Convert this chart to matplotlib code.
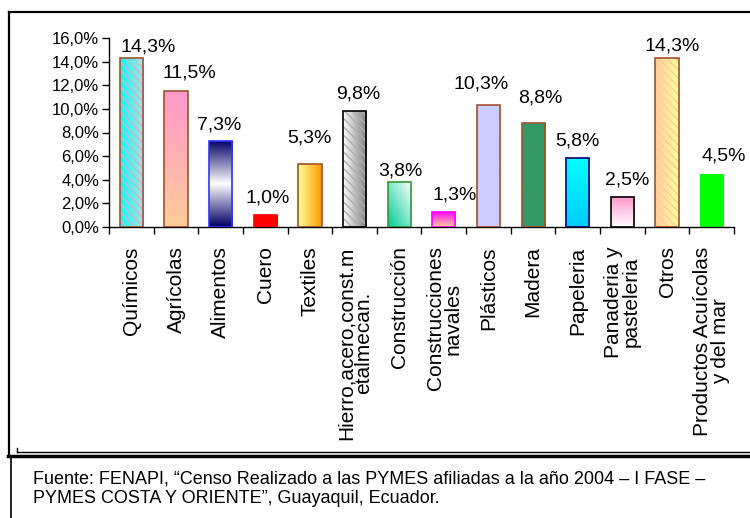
import numpy as np
import matplotlib
matplotlib.use("Agg")
from matplotlib import pyplot as plt
from matplotlib.lines import Line2D
from matplotlib.patches import Rectangle
from matplotlib.ticker import FuncFormatter, MultipleLocator, FixedLocator

# data
sectores = ["Químicos", "Agrícolas", "Alimentos", "Cuero", "Textiles",
            "Hierro,acero,const.m\netalmecan.", "Construcción",
            "Construcciones\nnavales", "Plásticos", "Madera", "Papeleria",
            "Panaderia y\npasteleria", "Otros", "Productos Acuícolas\ny del mar"]
porcentajes = [14.3, 11.5, 7.3, 1.0, 5.3, 9.8, 3.8, 1.3, 10.3, 8.8, 5.8, 2.5, 14.3, 4.5]
etiquetas = ["14,3%", "11,5%", "7,3%", "1,0%", "5,3%", "9,8%", "3,8%",
             "1,3%", "10,3%", "8,8%", "5,8%", "2,5%", "14,3%", "4,5%"]
fuente = ("Fuente: FENAPI, \u201cCenso Realizado a las PYMES afiliadas a la año 2004 \u2013 I FASE \u2013\n"
          "PYMES COSTA Y ORIENTE\u201d, Guayaquil, Ecuador.")

# styling: (kind, color1, color2, edge, hatch color)
estilos = [
    ("h", "#00ffff", "#b8e0e0", "#a0522d", "#c0c0c0"),
    ("v", "#ff99cc", "#ffcc99", "#a0522d", None),
    ("mid", "#000066", "#ffffff", "#3333ff", None),
    ("flat", "#ff0000", "#ff0000", "#ff0000", None),
    ("h", "#ffff99", "#ff9900", "#a0522d", None),
    ("h", "#ffffff", "#808080", "#000000", "#b0b0b0"),
    ("d", "#00cc99", "#ffffff", "#339933", None),
    ("v", "#ff00ff", "#ffcc99", "#ff00ff", None),
    ("flat", "#ccccff", "#ccccff", "#a0522d", None),
    ("flat", "#339966", "#339966", "#a0522d", None),
    ("v", "#00ffff", "#00ccff", "#000080", None),
    ("v", "#ff99cc", "#ffffff", "#000000", None),
    ("h", "#ffcc99", "#ffff99", "#a0522d", "#ffcc99"),
    ("flat", "#00ff00", "#00ff00", "none", None),
]
# label nudges in pixels (dx, dy above bar top)
nudges = [(17, 7), (13, 14), (-1, 11), (2, 13), (0, 22), (4, 13), (1, 7),
          (11, 12), (-7, 17), (7, 21), (0, 13), (5, 13), (5, 8), (12, 13)]

narrow = ["Liberation Sans Narrow", "Liberation Sans", "DejaVu Sans"]
W, H = 750, 518


def gradient(kind, c1, c2, n=64):
    a = np.array(matplotlib.colors.to_rgb(c1))
    b = np.array(matplotlib.colors.to_rgb(c2))
    t = np.linspace(0, 1, n)
    if kind == "v":      # c1 at top, c2 at bottom
        g = t[:, None] * np.ones((1, 2))
        img = a * g[..., None] + b * (1 - g[..., None])
    elif kind == "h":    # c1 left, c2 right
        g = np.ones((2, 1)) * t[None, :]
        img = a * (1 - g[..., None]) + b * g[..., None]
    elif kind == "mid":  # c1 at ends, c2 in the middle
        g = 1 - np.abs(2 * t - 1)
        g = g[:, None] * np.ones((1, 2))
        img = a * (1 - g[..., None]) + b * g[..., None]
    elif kind == "d":
        xx, yy = np.meshgrid(t, t)
        g = np.clip((xx + yy) / 2, 0, 1)
        img = a * (1 - g[..., None]) + b * g[..., None]
    else:
        img = np.ones((2, 2, 3)) * a
    return img


fig = plt.figure(figsize=(W / 100, H / 100), dpi=100)
ax = fig.add_axes([109 / W, 1 - 227 / H, (734 - 109) / W, (227 - 38) / H])

x = np.arange(len(sectores))
vals = np.array(porcentajes) / 100
bars = ax.bar(x, vals, width=0.52, facecolor="none", linewidth=1.2, zorder=3)

for b, (kind, c1, c2, ec, hc) in zip(bars, estilos):
    b.set_edgecolor(ec)
    if ec == "none":
        b.set_linewidth(0)
    bx, by = b.get_xy()
    im = ax.imshow(gradient(kind, c1, c2), extent=[bx, bx + b.get_width(), by, by + b.get_height()],
                   aspect="auto", origin="lower", interpolation="bilinear", zorder=2)
    im.set_clip_path(b)
    if hc:
        ax.bar(b.get_x() + b.get_width() / 2, b.get_height(), width=b.get_width(),
               facecolor="none", edgecolor=hc, linewidth=0, hatch="\\\\\\\\", zorder=2.5)

for xi, v, lab, (dx, dy) in zip(x, vals, etiquetas, nudges):
    ax.annotate(lab, (xi, v), xytext=(dx, dy), textcoords="offset pixels",
                ha="center", va="baseline", fontsize=14, family=narrow)

ax.set_xlim(-0.5, len(sectores) - 0.5)
ax.set_ylim(0, 0.16)
ax.yaxis.set_major_locator(MultipleLocator(0.02))
ax.yaxis.set_major_formatter(FuncFormatter(lambda v, p: ("%.1f%%" % (v * 100)).replace(".", ",")))
ax.set_xticks(x)
ax.set_xticklabels(sectores, rotation=90, ha="center", va="top", multialignment="center",
                   fontsize=15, family=narrow, linespacing=0.9)
ax.xaxis.set_minor_locator(FixedLocator(np.arange(len(sectores) + 1) - 0.5))
ax.tick_params(axis="x", which="major", length=0, pad=14)
ax.tick_params(axis="x", which="minor", length=5, direction="out", width=1)
ax.tick_params(axis="y", length=5, direction="out", width=1, labelsize=12, pad=2)
for t in ax.get_yticklabels():
    t.set_family(narrow)
for s in ["top", "right"]:
    ax.spines[s].set_visible(False)
ax.spines["left"].set_linewidth(1)
ax.spines["bottom"].set_linewidth(1)


def px(xp, yp):
    return xp / W, 1 - yp / H


# white cover for the lower note box, then the frame lines
fig.add_artist(Rectangle(px(0, 518), 1, (518 - 452) / H, transform=fig.transFigure,
                         facecolor="white", edgecolor="none", zorder=5))
segs = [((9, 12), (750, 12), 1.6), ((9, 12), (9, 456), 1.6), ((17, 452), (750, 452), 1.0),
        ((17, 448), (17, 452), 1.0), ((8, 456), (750, 456), 2.5), ((11, 456), (11, 518), 1.2)]
for (x0, y0), (x1, y1), lw in segs:
    p0, p1 = px(x0, y0), px(x1, y1)
    fig.add_artist(Line2D([p0[0], p1[0]], [p0[1], p1[1]], transform=fig.transFigure,
                          color="black", linewidth=lw, zorder=6))

fig.text(*px(33, 503), fuente, fontsize=13, family=["Liberation Sans", "DejaVu Sans"],
         va="baseline", ha="left", linespacing=1.2, zorder=7)

fig.savefig("out.png", dpi=100)
